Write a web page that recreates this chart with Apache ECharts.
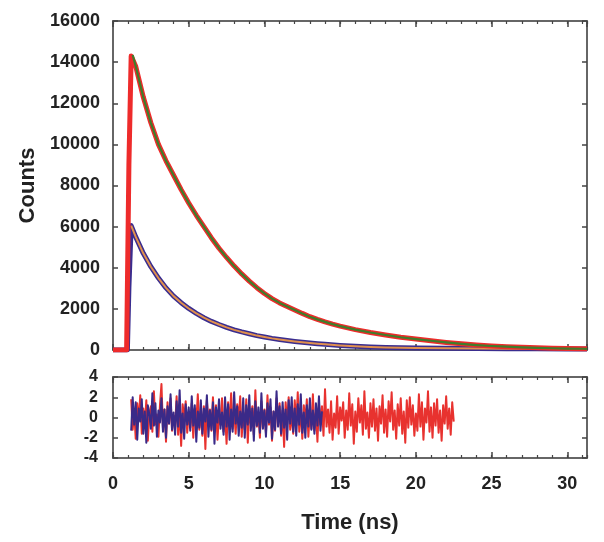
<!DOCTYPE html>
<html>
<head>
<meta charset="utf-8">
<script src="https://cdn.jsdelivr.net/npm/echarts@6/dist/echarts.min.js"></script>
<style>
html,body{margin:0;padding:0;background:#fff;}
#chart{width:604px;height:542px;}
</style>
</head>
<body>
<div id="chart"></div>
<script>
// ---- Data ----
// Decay A (red data, green fit)
const timeA = [0, 0.5, 0.9, 1.05, 1.2, 1.3, 1.5, 2.0, 2.5, 3.0, 3.5, 4.0, 4.5, 5.0, 5.5, 6.0, 6.5, 7.0, 7.5, 8.0, 8.5, 9.0, 9.5, 10, 10.5, 11, 11.5, 12, 12.5, 13, 13.5, 14, 14.5, 15, 16, 17, 18, 19, 20, 21, 22, 23, 24, 25, 26, 27, 28, 29, 30, 31, 31.3];
const countsA = [0, 0, 0, 9000, 14300, 14350, 13800, 12300, 11050, 10000, 9200, 8500, 7800, 7150, 6550, 6000, 5450, 4950, 4500, 4080, 3700, 3350, 3030, 2750, 2500, 2290, 2120, 1950, 1780, 1620, 1490, 1370, 1260, 1160, 990, 850, 730, 620, 530, 450, 370, 300, 240, 195, 160, 130, 105, 85, 70, 60, 55];
const peakIndexA = 5;
// Decay B (blue data, orange fit)
const timeB = [0, 0.5, 0.95, 1.05, 1.2, 1.5, 2.0, 2.5, 3.0, 3.5, 4.0, 4.5, 5.0, 5.5, 6.0, 6.5, 7.0, 7.5, 8.0, 8.5, 9.0, 9.5, 10, 10.5, 11, 11.5, 12, 12.5, 13, 13.5, 14, 15, 16, 17, 18, 19, 20, 22, 24, 26, 28, 30, 31.3];
const countsB = [0, 0, 0, 3000, 6050, 5500, 4700, 4050, 3500, 3020, 2620, 2300, 2020, 1780, 1570, 1390, 1240, 1100, 980, 880, 790, 700, 630, 565, 510, 460, 415, 375, 340, 305, 275, 220, 180, 150, 125, 110, 95, 80, 70, 60, 55, 50, 45];
const peakIndexB = 4;
// Residuals (sampled every 0.1 ns starting at 1.2 ns)
const residStart = 1.2;
const residStep = 0.1;
const residA = [
 1.8,-1.2,0.6,-2.1,1.4,-0.3,2.2,-1.6,0.9,-0.8,1.7,-2.3,0.4,1.1,-1.4,2.6,-0.7,0.3,-1.9,1.2,
 3.3,-1.1,0.8,-2.4,1.5,-0.6,1.9,-1.3,0.2,-0.9,2.1,-1.7,0.7,-2.8,1.3,-0.2,1.6,-1.5,0.5,-1.0,
 1.4,-2.0,0.9,-0.4,2.3,-1.2,0.6,-1.8,1.1,-3.1,1.7,-0.5,0.8,-1.3,2.0,-0.9,1.2,-2.2,0.4,-0.7,
 1.9,-1.4,0.3,-2.6,1.5,-0.8,2.4,-1.1,0.7,-1.6,1.3,-0.2,2.1,-1.9,0.5,-1.2,1.8,-2.5,0.9,-0.6,
 1.1,-1.7,2.7,-0.9,0.4,-2.0,1.6,-1.0,0.8,-1.5,2.2,-0.7,1.0,-2.3,0.6,-1.3,1.9,-0.4,1.4,-1.8,
 0.7,-2.9,1.5,-0.6,2.0,-1.2,0.3,-1.6,1.7,-0.8,2.5,-1.4,0.9,-2.1,1.2,-0.5,1.8,-1.9,0.6,-1.1,
 2.3,-1.3,0.5,-2.4,1.4,-0.7,1.1,-1.8,2.8,-0.9,0.8,-1.5,1.6,-2.2,0.4,-1.0,2.1,-1.6,1.0,-0.3,
 1.5,-2.0,0.7,-1.2,2.4,-0.8,1.3,-2.6,0.6,-1.4,1.9,-0.5,1.2,-1.7,2.6,-1.1,0.5,-2.0,1.4,-0.9,
 1.8,-1.3,0.9,-2.3,1.1,-0.6,2.2,-1.5,0.8,-1.9,1.6,-0.4,2.5,-1.2,0.7,-2.1,1.3,-0.8,1.9,-1.6,
 0.6,-2.5,1.7,-1.0,2.0,-0.7,1.2,-1.8,0.4,-1.3,2.3,-0.9,1.5,-2.2,0.9,-0.5,2.6,-1.4,1.0,-2.0,
 1.4,-0.8,1.8,-1.5,0.7,-2.3,1.2,-0.6,2.1,-1.1,0.9,-1.7,1.5,-0.4
];
const residB = [
 -1.3,2.0,-0.7,1.5,-2.2,0.9,-0.4,1.8,-1.6,0.6,-2.5,1.2,0.3,-1.1,2.4,-0.8,1.4,-1.9,0.7,-0.5,
 1.9,-1.4,0.8,-2.0,1.1,-0.6,2.3,-1.2,0.5,-1.7,1.6,-0.9,2.7,-1.5,0.4,-2.1,1.3,-0.7,1.0,-1.3,
 2.1,-0.8,1.2,-2.4,0.6,-1.0,1.7,-1.6,0.9,-0.4,2.2,-1.9,0.7,-1.2,1.5,-2.6,1.0,-0.5,1.8,-1.1,
 0.5,-1.7,2.0,-0.9,1.3,-2.2,0.8,-1.4,2.5,-0.6,1.1,-1.8,0.6,-1.0,1.9,-2.0,1.2,-0.7,2.2,-1.3,
 0.9,-2.3,1.6,-0.8,1.0,-1.5,2.4,-1.1,0.7,-1.9,1.4,-0.5,1.8,-2.1,0.6,-1.2,2.6,-0.9,1.1,-1.6,
 1.5,-1.0,0.8,-2.2,1.7,-0.6,2.0,-1.4,0.9,-1.8,1.3,-0.7,2.3,-1.5,0.5,-2.0,1.2,-0.9,1.9,-1.2,
 0.7,-1.6,1.4,-0.8,2.1,-1.3,0.6
];
const xTicks = [0, 5, 10, 15, 20, 25, 30];
const yTicksTop = [0, 2000, 4000, 6000, 8000, 10000, 12000, 14000, 16000];
const yTicksBottom = [-4, -2, 0, 2, 4];

// ---- Build ----
const pairs = (t, v) => t.map((x, i) => [x, v[i]]);
const residPairs = (arr) => arr.map((v, i) => [+(residStart + i * residStep).toFixed(2), v]);

const FONT = 'Liberation Sans, Arial, sans-serif';
const FRAME = '#666';
const TICK = '#444';
const X_MIN = xTicks[0], X_MAX = 31.3;
const fmt = (v) => String(v);

// major x axis (interval 5, long ticks, optional labels)
function xMajor(grid, pos, labels) {
  return {
    type: 'value', gridIndex: grid, position: pos,
    min: X_MIN, max: X_MAX, interval: 5,
    axisLine: { show: true, onZero: false, lineStyle: { color: FRAME, width: 2 } },
    axisTick: { show: true, inside: true, length: 6, lineStyle: { color: TICK, width: 1.5 } },
    splitLine: { show: false },
    axisLabel: {
      show: labels, margin: 17, showMaxLabel: false, formatter: fmt,
      fontFamily: FONT, fontWeight: 'bold', fontSize: 18, color: '#222'
    }
  };
}
// minor x axis (interval 1, short ticks, no labels)
function xMinor(grid, pos) {
  return {
    type: 'value', gridIndex: grid, position: pos,
    min: X_MIN, max: X_MAX, interval: 1,
    axisLine: { show: false, onZero: false },
    axisTick: { show: true, inside: true, length: 3, lineStyle: { color: TICK, width: 1.2 } },
    splitLine: { show: false },
    axisLabel: { show: false }
  };
}
function yAx(grid, pos, min, max, interval, labels, fs, margin) {
  return {
    type: 'value', gridIndex: grid, position: pos,
    min: min, max: max, interval: interval,
    axisLine: { show: true, onZero: false, lineStyle: { color: FRAME, width: 2 } },
    axisTick: { show: true, inside: true, length: 5, lineStyle: { color: TICK, width: 1.5 } },
    splitLine: { show: false },
    axisLabel: { show: labels, margin: margin, formatter: fmt, fontFamily: FONT, fontWeight: 'bold', fontSize: fs, color: '#222' }
  };
}

const xAxes = [
  xMajor(0, 'bottom', false),                       // 0
  xMajor(0, 'top', false),                          // 1
  Object.assign(xMajor(1, 'bottom', true), {        // 2
    name: 'Time (ns)', nameLocation: 'middle', nameGap: 54,
    nameTextStyle: { fontFamily: FONT, fontWeight: 'bold', fontSize: 22, color: '#222' }
  }),
  xMajor(1, 'top', false),                          // 3
  xMinor(0, 'bottom'), xMinor(0, 'top'), xMinor(1, 'bottom'), xMinor(1, 'top')
];
const yAxes = [
  Object.assign(yAx(0, 'left', yTicksTop[0], yTicksTop[yTicksTop.length - 1], 2000, true, 18, 13), {
    name: 'Counts', nameLocation: 'middle', nameGap: 72,
    nameTextStyle: { fontFamily: FONT, fontWeight: 'bold', fontSize: 22, color: '#222' }
  }),
  yAx(0, 'right', yTicksTop[0], yTicksTop[yTicksTop.length - 1], 2000, false, 18, 13),
  yAx(1, 'left', yTicksBottom[0], yTicksBottom[yTicksBottom.length - 1], 2, true, 16, 15),
  yAx(1, 'right', yTicksBottom[0], yTicksBottom[yTicksBottom.length - 1], 2, false, 16, 15)
];

function line(data, color, width, xi, yi, z) {
  return {
    type: 'line', data: data, xAxisIndex: xi, yAxisIndex: yi,
    showSymbol: false, symbol: 'none', smooth: false, z: z,
    lineStyle: { color: color, width: width, join: 'round' },
    silent: true, animation: false
  };
}

const option = {
  animation: false,
  backgroundColor: '#fff',
  grid: [
    { left: 113, right: 17, top: 21, height: 329 },
    { left: 113, right: 17, top: 377, height: 81 }
  ],
  xAxis: xAxes,
  yAxis: yAxes,
  series: [
    line(pairs(timeB, countsB), '#3a2d8f', 5, 0, 0, 2),
    line(pairs(timeB.slice(peakIndexB), countsB.slice(peakIndexB)), '#e0904e', 2, 0, 0, 3),
    line(pairs(timeA, countsA), '#ee2b2b', 5, 0, 0, 4),
    line(pairs(timeA.slice(peakIndexA), countsA.slice(peakIndexA)), '#3f7d2b', 2.2, 0, 0, 5),
    line(residPairs(residA), '#e8322f', 2, 2, 2, 2),
    line(residPairs(residB), '#3a2a88', 2, 2, 2, 3)
  ]
};

const chart = echarts.init(document.getElementById('chart'), null, { renderer: 'canvas' });
chart.setOption(option);
</script>
</body>
</html>
